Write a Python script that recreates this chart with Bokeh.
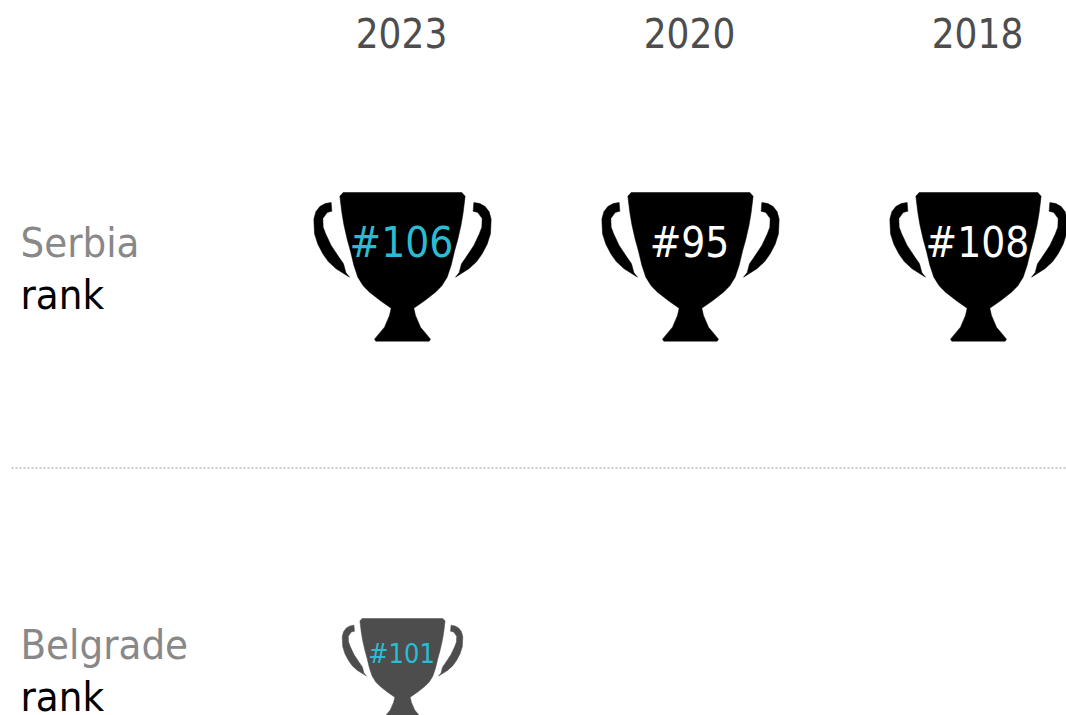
from bokeh.plotting import figure
from bokeh.embed import file_html
from bokeh.resources import INLINE
from bokeh.core.properties import value
from bokeh.models import Range1d

years = ["2023", "2020", "2018"]
serbia_rank = ["#106", "#95", "#108"]
belgrade_rank = ["#101"]
row_labels = ["Serbia", "Belgrade"]

FONT = value("DejaVu Sans Condensed")
W, H = 1066, 715
p = figure(width=W, height=H, output_backend="svg", toolbar_location=None,
           x_range=Range1d(0, W), y_range=Range1d(H, 0), min_border=0)
p.axis.visible = False
p.grid.visible = False
p.outline_line_color = None
p.background_fill_color = "white"

# Trophy outline: half-shape at full scale (3 units per px), measured from top-centre
BODY = [(178,0),(188,11),(182,60),(176,96),(166,140),(156,176),(146,218),(134,254),(118,280),(99,299),
        (66,325),(34,347),(39,369),(54,404),(84,440),(80,446)]
HANDLE = [(214,30),(232,33),(248,42),(260,58),(266,80),(264,124),(254,155),(239,184),(222,208),(199,229),(159,254),
          (170,240),(177,214),(190,195),(214,159),(230,125),(238,104),(239,78),(226,60),(212,56)]

def trophy(cx, top, scale, color):
    k = scale / 3
    body_x = [cx + k * x for x, _ in BODY] + [cx - k * x for x, _ in reversed(BODY)]
    body_y = [top + k * y for _, y in BODY] + [top + k * y for _, y in reversed(BODY)]
    p.patch(body_x, body_y, fill_color=color, line_color=color, line_width=0.5)
    for s in (1, -1):
        p.patch([cx + s * k * x for x, _ in HANDLE], [top + k * y for _, y in HANDLE],
                fill_color=color, line_color=color, line_width=0.5)

def label(x, y, txt, size, color, align="left"):
    p.text([x], [y], text=[txt], text_font=FONT, text_font_size=f"{size}px", text_color=color,
           text_align=align, text_baseline="middle")

columns = [401, 689, 977]
for cx, yr in zip(columns, years):
    label(cx, 32, yr, 40, "#4d4d4d", "center")

for i, (cx, r) in enumerate(zip(columns, serbia_rank)):
    trophy(cx + 1, 192, 1.0, "#000000")
    label(cx, 242, r, 42, "#2bbcd4" if i == 0 else "#ffffff", "center")

for cx, r in zip(columns, belgrade_rank):
    trophy(cx + 1, 618, 0.68, "#4d4d4d")
    label(cx, 653, r, 27, "#2bbcd4", "center")

label(20, 242, row_labels[0], 41.5, "#888888")
label(20, 294, "rank", 41.5, "#000000")
label(20, 644, row_labels[1], 41.5, "#888888")
label(20, 696, "rank", 41.5, "#000000")

p.line([11, W], [467.5, 467.5], line_color="#999999", line_width=1, line_dash="2 2")

open("out.html", "w").write(file_html(p, INLINE))
